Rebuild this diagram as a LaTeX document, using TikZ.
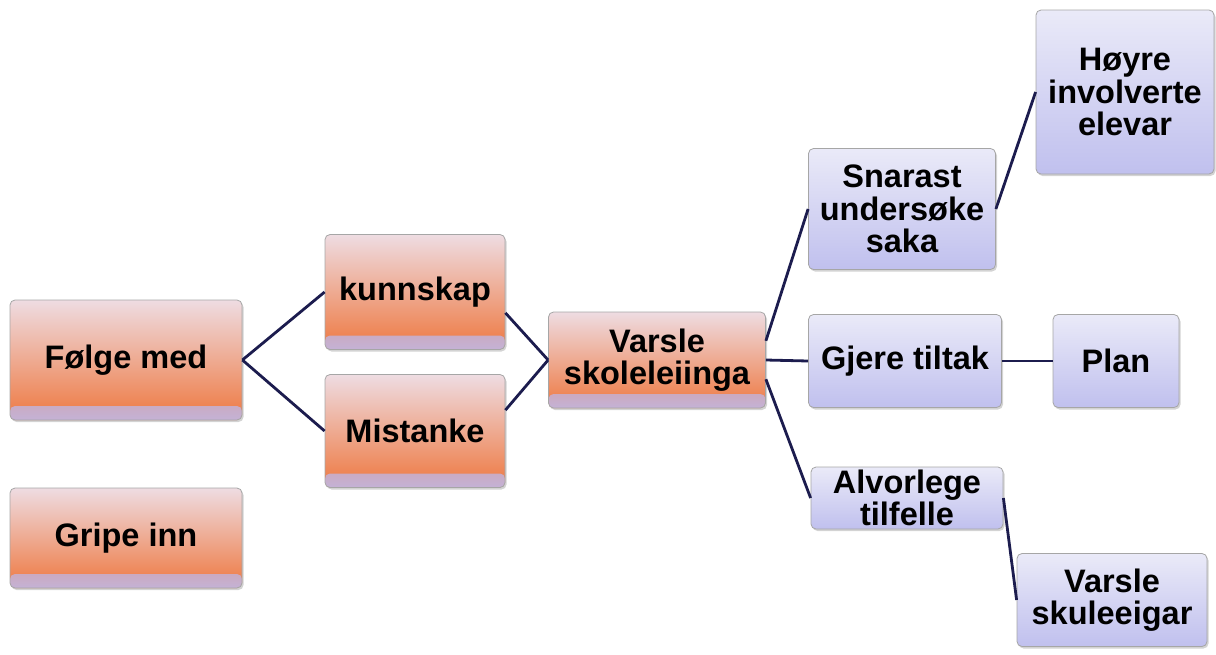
\documentclass[tikz,border=0pt]{standalone}
\usepackage{fontspec}
\setmainfont{Liberation Sans}
\usetikzlibrary{shadows}

\definecolor{orangetop}{HTML}{EEDCE2}
\definecolor{orangemid}{HTML}{F2A080}
\definecolor{orangebot}{HTML}{EE7840}
\definecolor{orangestrip}{HTML}{C4B2D6}
\definecolor{bluetop}{HTML}{EAEAF8}
\definecolor{bluebot}{HTML}{C0C0EE}
\definecolor{linkcolor}{HTML}{1C1C4E}

\begin{document}
\begin{tikzpicture}[x=1pt,y=-1pt,
	box/.style={rectangle,rounded corners=5pt,draw=gray!70,line width=0.8pt,
		align=center,inner sep=0pt,font=\fontsize{32.5}{32.5}\selectfont\bfseries,
		drop shadow={shadow xshift=1.5pt,shadow yshift=-2pt,opacity=0.35}},
	orangebox/.style={box,top color=orangetop,middle color=orangemid,bottom color=orangebot,
		path picture={\shade[top color=orangebot,bottom color=orangestrip]
			(path picture bounding box.south west)
			rectangle ([yshift=14pt]path picture bounding box.south east);}},
	bluebox/.style={box,top color=bluetop,bottom color=bluebot},
	link/.style={draw=linkcolor,line width=2.8pt}]

	\useasboundingbox (0,0) rectangle (1216,654);

	\node[orangebox,minimum width=232pt,minimum height=120pt] (folge)     at (126, 360)  {Følge med};
	\node[orangebox,minimum width=232pt,minimum height=100pt] (gripe)     at (126, 538)  {Gripe inn};
	\node[orangebox,minimum width=180pt,minimum height=115pt] (kunnskap)  at (415, 292)  {kunnskap};
	\node[orangebox,minimum width=180pt,minimum height=113pt] (mistanke)  at (415, 431)  {Mistanke};
	\node[orangebox,minimum width=217pt,minimum height=96pt]  (leiing)    at (657, 360)  {Varsle\\skoleleiinga};
	\node[bluebox,minimum width=187pt,minimum height=121pt]   (snarast)   at (902, 209)  {Snarast\\undersøke\\saka};
	\node[bluebox,minimum width=193pt,minimum height=93pt]    (tiltak)    at (905, 361)  {Gjere tiltak};
	\node[bluebox,minimum width=126pt,minimum height=93pt]    (plan)      at (1116, 361) {Plan};
	\node[bluebox,minimum width=178pt,minimum height=164pt]   (hoyre)     at (1125, 92)  {Høyre\\involverte\\elevar};
	\node[bluebox,minimum width=192pt,minimum height=62pt]    (alvorleg)  at (907, 498)  {Alvorlege\\tilfelle};
	\node[bluebox,minimum width=190pt,minimum height=93pt]    (eigar)     at (1112, 600) {Varsle\\skuleeigar};

	\path[link] (folge.east)    edge (kunnskap.west);
	\path[link] (folge.east)    edge (mistanke.west);
	\path[link] (kunnskap.-13)  edge (leiing.west);
	\path[link] (mistanke.13)   edge (leiing.west);
	\path[link] (leiing.10)     edge (snarast.west);
	\path[link] (leiing.east)   edge (tiltak.west);
	\path[link] (leiing.-10)    edge (alvorleg.west);
	\path[link] (tiltak.east)   edge (plan.west);
	\path[link] (snarast.east)  edge (hoyre.west);
	\path[link] (alvorleg.east) edge (eigar.west);

\end{tikzpicture}
\end{document}
